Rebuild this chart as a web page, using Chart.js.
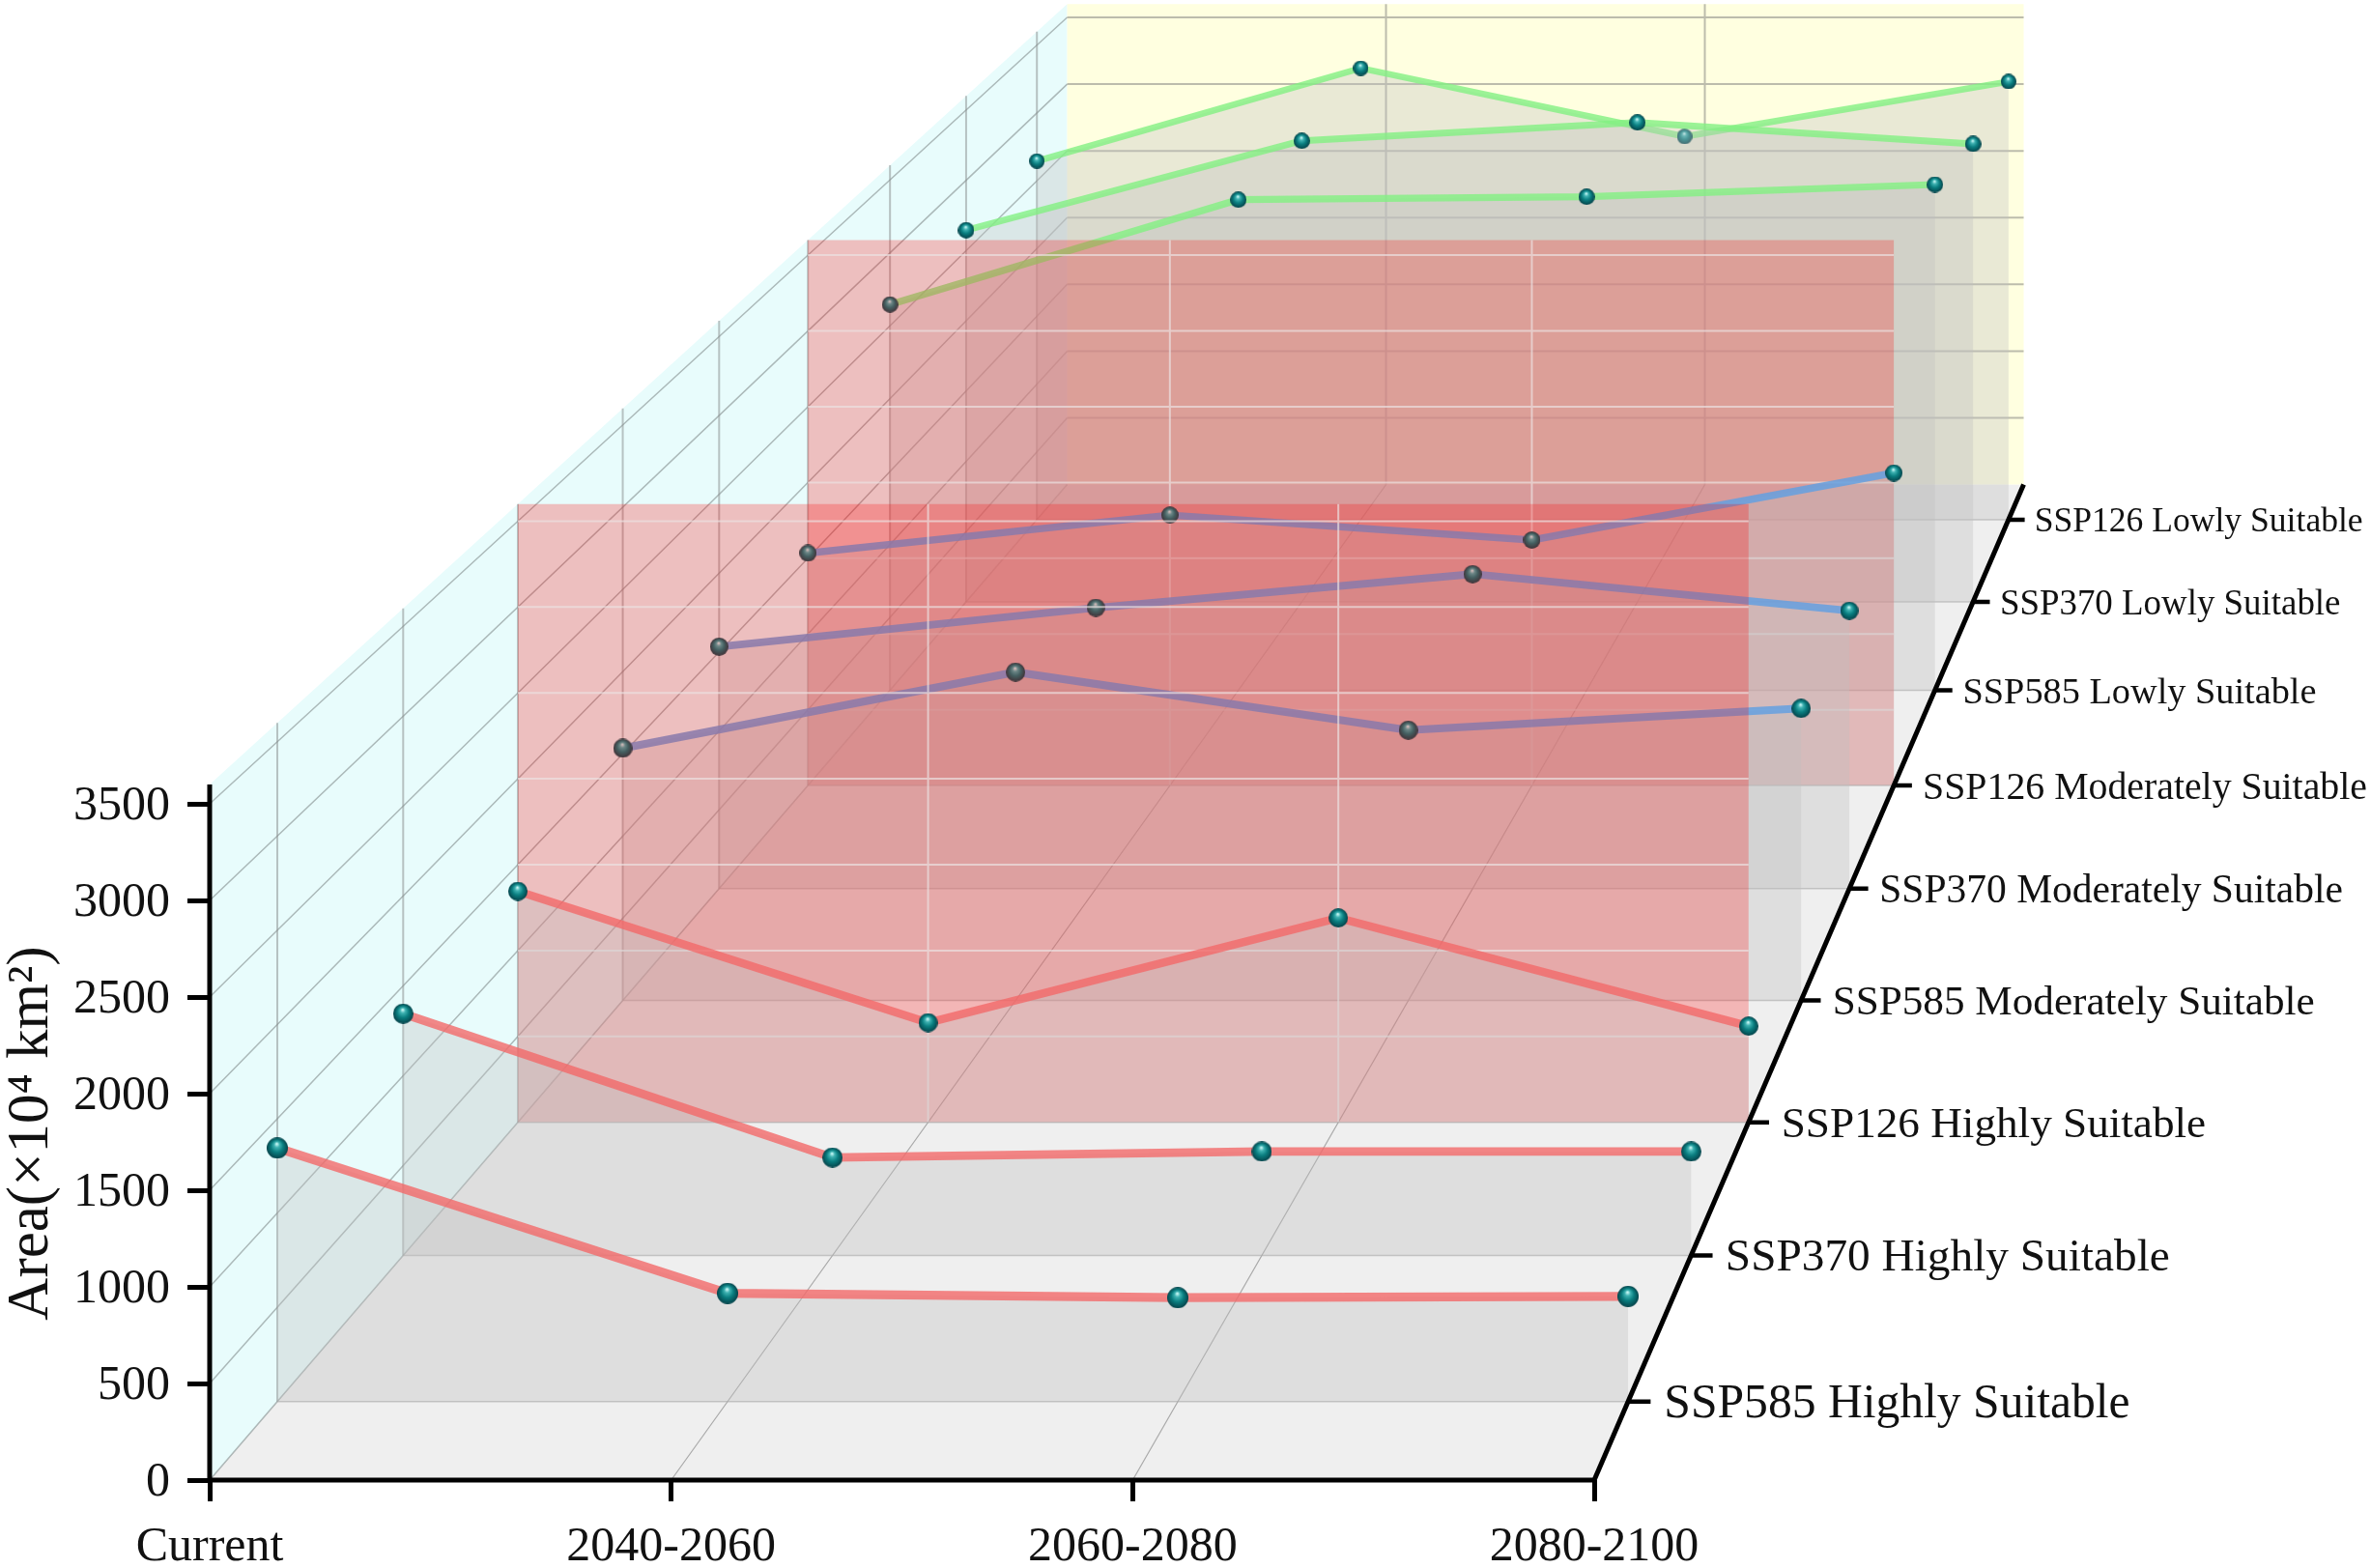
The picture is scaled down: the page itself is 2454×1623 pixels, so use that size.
<!DOCTYPE html>
<html>
<head>
<meta charset="utf-8">
<title>Suitable area</title>
<script src="https://cdn.jsdelivr.net/npm/chart.js@4/dist/chart.umd.js"></script>
<style>
  html, body { margin: 0; padding: 0; background: #fff; }
  canvas { display: block; }
</style>
</head>
<body>
<canvas id="chart" width="2454" height="1623"></canvas>
<script>
"use strict";

var periods = ["Current", "2040-2060", "2060-2080", "2080-2100"];
var valueTicks = [0, 500, 1000, 1500, 2000, 2500, 3000, 3500];
var rowLabels = [
  "SSP585 Highly Suitable", "SSP370 Highly Suitable", "SSP126 Highly Suitable",
  "SSP585 Moderately Suitable", "SSP370 Moderately Suitable", "SSP126 Moderately Suitable",
  "SSP585 Lowly Suitable", "SSP370 Lowly Suitable", "SSP126 Lowly Suitable"
];

var ssp585High = [1345, 574, 551, 558];
var ssp370High = [1345, 545, 578, 578];
var ssp126High = [1345, 580, 1190, 560];
var ssp585Moderate = [1534, 1997, 1644, 1776];
var ssp370Moderate = [1534, 1781, 1994, 1762];
var ssp126Moderate = [1534, 1785, 1620, 2063];
var ssp585Low = [2645, 3364, 3384, 3468];
var ssp370Low = [2645, 3281, 3412, 3259];
var ssp126Low = [2645, 3330, 2826, 3231];

var rowValues = [
  ssp585High, ssp370High, ssp126High,
  ssp585Moderate, ssp370Moderate, ssp126Moderate,
  ssp585Low, ssp370Low, ssp126Low
];

// Main colours
var RED = "rgba(243, 105, 105, 0.8)";
var BLUE = "rgba(100, 160, 225, 0.85)";
var GREEN = "rgba(130, 240, 130, 0.8)";
var rowColors = [RED, RED, RED, BLUE, BLUE, BLUE, GREEN, GREEN, GREEN];
var rowPanels = [false, false, true, false, false, true, false, false, false];

// Layout of the front plane on the canvas
var plotLeft = 217;
var plotBottom = 1532;
var categoryPx = 477.67;
var valuePx = 0.2;
var WIDTH = 2454;
var HEIGHT = 1623;

// Perspective: vanishing point in data units, depth runs 0..8.95
var VANISH_T = 6.01;
var VANISH_V = 16665;
var DEPTH_STEP = 0.05;
var DEPTH_MAX = 8.95;
var VALUE_TOP = 3600;
var LAST_T = periods.length - 1;

var depthScale = function(z) {
  return 1 / (1 + DEPTH_STEP * z);
};

var project = function(t, v, z) {
  var s = depthScale(z);
  return { x: VANISH_T + (t - VANISH_T) * s, y: VANISH_V + (v - VANISH_V) * s };
};

var GAP = { x: NaN, y: NaN };

var segments = function(list) {
  var out = [];
  list.forEach(function(seg) {
    out.push(seg[0], seg[1], GAP);
  });
  return out;
};

var areaSet = function(points, color) {
  return {
    data: points, showLine: true, fill: "shape", backgroundColor: color,
    borderWidth: 0, borderColor: "transparent", pointRadius: 0, clip: false
  };
};

var lineSet = function(points, color, width) {
  return {
    data: points, showLine: true, fill: false, borderColor: color,
    borderWidth: width, pointRadius: 0, clip: false, borderCapStyle: "butt"
  };
};

var sphere = function(diameter) {
  var c = document.createElement("canvas");
  var size = Math.round(diameter);
  c.width = size;
  c.height = size;
  var g = c.getContext("2d");
  var r = size / 2;
  var grad = g.createRadialGradient(r * 0.95, r * 0.6, r * 0.05, r, r, r);
  grad.addColorStop(0, "#c4f6f4");
  grad.addColorStop(0.22, "#3fb2b2");
  grad.addColorStop(0.55, "#0a7e80");
  grad.addColorStop(1, "#05434a");
  g.fillStyle = grad;
  g.beginPath();
  g.arc(r, r, r, 0, Math.PI * 2);
  g.fill();
  return c;
};

var wallSets = function() {
  var sets = [];
  sets.push(areaSet([project(0, 0, 0), project(LAST_T, 0, 0), project(LAST_T, 0, DEPTH_MAX), project(0, 0, DEPTH_MAX)], "#efefef"));
  sets.push(areaSet([project(0, 0, 0), project(0, VALUE_TOP, 0), project(0, VALUE_TOP, DEPTH_MAX), project(0, 0, DEPTH_MAX)], "#e8fcfc"));
  sets.push(areaSet([project(0, 0, DEPTH_MAX), project(0, VALUE_TOP, DEPTH_MAX), project(LAST_T, VALUE_TOP, DEPTH_MAX), project(LAST_T, 0, DEPTH_MAX)], "#ffffe0"));

  var diagonals = valueTicks.map(function(v) {
    return [project(0, v, 0), project(0, v, DEPTH_MAX)];
  });
  sets.push(lineSet(segments(diagonals), "rgba(120, 130, 130, 0.55)", 1.5));

  var backRows = valueTicks.slice(1).map(function(v) {
    return [project(0, v, DEPTH_MAX), project(LAST_T, v, DEPTH_MAX)];
  });
  var backCols = [1, 2].map(function(t) {
    return [project(t, 0, DEPTH_MAX), project(t, VALUE_TOP, DEPTH_MAX)];
  });
  sets.push(lineSet(segments(backRows.concat(backCols)), "rgba(165, 165, 155, 0.75)", 2));

  var floorLines = [1, 2].map(function(t) {
    return [project(t, 0, 0), project(t, 0, DEPTH_MAX)];
  });
  sets.push(lineSet(segments(floorLines), "rgba(140, 140, 140, 0.7)", 1.2));
  return sets;
};

var rowSets = function(i) {
  var z = i + 0.5;
  var s = depthScale(z);
  var values = rowValues[i];
  var sets = [];

  sets.push(lineSet([project(0, 0, z), project(0, VALUE_TOP, z)], "rgba(140, 145, 145, 0.55)", 2));

  if (rowPanels[i]) {
    sets.push(areaSet([project(0, 0, z), project(0, VALUE_TOP, z), project(LAST_T, VALUE_TOP, z), project(LAST_T, 0, z)], "rgba(255, 0, 0, 0.24)"));
    var panelRows = valueTicks.slice(1).map(function(v) {
      return [project(0, v, z), project(LAST_T, v, z)];
    });
    var panelCols = [1, 2].map(function(t) {
      return [project(t, 0, z), project(t, VALUE_TOP, z)];
    });
    sets.push(lineSet(segments(panelRows.concat(panelCols)), "rgba(235, 225, 225, 0.7)", 2));
  }

  var top = values.map(function(v, t) {
    return project(t, v, z);
  });
  sets.push(areaSet(top.concat([project(LAST_T, 0, z), project(0, 0, z)]), "rgba(192, 192, 192, 0.35)"));
  sets.push(lineSet([project(0, 0, z), project(LAST_T, 0, z)], "rgba(170, 170, 170, 0.6)", 1.5));

  var image = sphere(23 * s);
  sets.push({
    data: top, showLine: true, fill: false, borderColor: rowColors[i],
    borderWidth: 9.5 * s, pointStyle: image, pointRadius: 11.5 * s, clip: false
  });
  return sets;
};

var axisSets = function() {
  var sets = [];
  var frame = [
    [project(0, 0, 0), project(0, VALUE_TOP, 0)],
    [project(0, 0, 0), project(LAST_T, 0, 0)],
    [project(LAST_T, 0, 0), project(LAST_T, 0, DEPTH_MAX)]
  ];
  sets.push(lineSet(segments(frame), "#000", 5));
  var depthTicks = rowLabels.map(function(label, i) {
    return [project(LAST_T, 0, i + 0.5), project(LAST_T + 0.05, 0, i + 0.5)];
  });
  sets.push(lineSet(segments(depthTicks), "#000", 4.5));
  return sets;
};

var buildDatasets = function() {
  var sets = wallSets();
  for (var i = rowLabels.length - 1; i >= 0; i--) {
    sets = sets.concat(rowSets(i));
  }
  sets = sets.concat(axisSets());
  // Chart.js paints the first dataset last, so turn the list round
  return sets.reverse();
};

// The filler clips to chartArea, and the walls run past it. Open it up while datasets draw.
var openClipPlugin = {
  id: "openClip",
  beforeDatasetsDraw: function(chart) {
    var area = chart.chartArea;
    chart.$savedArea = { top: area.top, right: area.right };
    area.top = 0;
    area.right = WIDTH;
  },
  afterDatasetsDraw: function(chart) {
    chart.chartArea.top = chart.$savedArea.top;
    chart.chartArea.right = chart.$savedArea.right;
  }
};

var textPlugin = {
  id: "axisText",
  afterDraw: function(chart) {
    var ctx = chart.ctx;
    var xs = chart.scales.x;
    var ys = chart.scales.y;
    ctx.save();
    ctx.fillStyle = "#111";
    ctx.textAlign = "left";
    ctx.textBaseline = "middle";
    rowLabels.forEach(function(label, i) {
      var z = i + 0.5;
      var p = project(LAST_T + 0.08, 0, z);
      ctx.font = (50.8 * depthScale(z)).toFixed(1) + 'px "Liberation Serif"';
      ctx.fillText(label, xs.getPixelForValue(p.x), ys.getPixelForValue(p.y) + 3);
    });
    ctx.translate(33, 1173);
    ctx.rotate(-Math.PI / 2);
    ctx.textAlign = "center";
    ctx.font = '61px "Liberation Serif"';
    ctx.fillText("Area(×10⁴ km²)", 0, 0);
    ctx.restore();
  }
};

var drawChart = function(elementId) {
  var chart = new Chart(document.getElementById(elementId), {
    type: "scatter",
    plugins: [openClipPlugin, textPlugin],
    data: { datasets: buildDatasets() },
    options: {
      responsive: false,
      animation: false,
      devicePixelRatio: 1,
      events: [],
      layout: { padding: 0 },
      plugins: { legend: { display: false }, tooltip: { enabled: false } },
      scales: {
        x: {
          type: "linear",
          min: 0,
          max: (WIDTH - plotLeft) / categoryPx,
          border: { display: false },
          grid: { drawOnChartArea: false, tickLength: 22, tickWidth: 5, tickColor: "#000" },
          afterBuildTicks: function(scale) {
            scale.ticks = periods.map(function(p, i) { return { value: i }; });
          },
          afterFit: function(scale) { scale.height = HEIGHT - plotBottom; },
          ticks: {
            autoSkip: false,
            maxRotation: 0,
            padding: 18,
            color: "#111",
            font: { family: "Liberation Serif", size: 50 },
            callback: function(value) { return periods[value]; }
          }
        },
        y: {
          type: "linear",
          min: 0,
          max: plotBottom / valuePx,
          border: { display: false },
          grid: { drawOnChartArea: false, tickLength: 23, tickWidth: 5, tickColor: "#000" },
          afterBuildTicks: function(scale) {
            scale.ticks = valueTicks.map(function(v) { return { value: v }; });
          },
          afterFit: function(scale) { scale.width = plotLeft; },
          ticks: {
            padding: 18,
            labelOffset: 3,
            color: "#111",
            font: { family: "Liberation Serif", size: 50 },
            callback: function(value) { return String(value); }
          }
        }
      }
    }
  });

  // the layout trims the plot area a little: set the ranges so one unit keeps its size
  var area = chart.chartArea;
  chart.options.scales.x.max = (area.right - area.left) / categoryPx;
  chart.options.scales.y.max = (area.bottom - area.top) / valuePx;
  chart.update();
  return chart;
};

drawChart("chart");
</script>
</body>
</html>
